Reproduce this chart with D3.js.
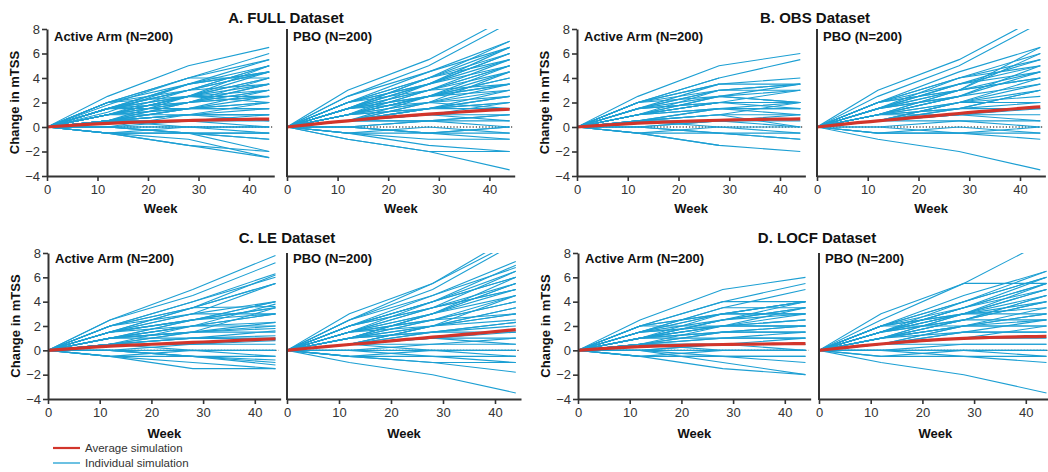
<!DOCTYPE html>
<html><head><meta charset="utf-8">
<script src="https://cdn.jsdelivr.net/npm/d3@7"></script>
<style>
body{margin:0;background:#fff;}
svg{display:block;font-family:"Liberation Sans",Arial,sans-serif;}
</style></head><body>
<svg id="c" width="1048" height="472"></svg>
<script>
// ---- data ----
const weeks = [0, 12, 28, 44];            // visit weeks of the individual simulations
const avgWeeks = [0, 4, 8, 12, 16, 20, 24, 28, 32, 36, 40, 44];
const xTicks = [0, 10, 20, 30, 40];
const yTicks = [-4, -2, 0, 2, 4, 6, 8];
const panelTitles = ["A. FULL Dataset", "B. OBS Dataset", "C. LE Dataset", "D. LOCF Dataset"];
const armLabels = ["Active Arm (N=200)", "PBO (N=200)"];
const legendLabels = ["Average simulation", "Individual simulation"];

// individual simulations: values at weeks 12, 28, 44 (week 0 = 0)
const fullActive = [
[2.5,5.0,6.5],[2.0,4.0,6.0],[1.8,4.0,5.5],[1.5,3.5,5.5],[2.0,3.5,5.0],[1.5,3.0,5.0],[1.2,3.5,4.5],[1.5,3.0,4.5],
[1.0,2.5,4.0],[2.0,4.0,4.0],[1.5,2.5,4.0],[1.0,2.5,3.5],[1.5,3.0,3.5],[0.5,2.0,3.5],[1.0,2.0,3.0],[1.5,2.5,3.0],
[0.5,1.5,3.0],[1.0,2.0,2.5],[0.5,1.5,2.5],[1.5,2.0,2.5],[1.0,1.5,2.0],[0.5,1.0,2.0],[2.0,2.5,2.0],[0.5,1.0,1.5],
[1.0,1.5,1.5],[0.5,0.5,1.0],[1.0,1.0,1.0],[0.5,1.0,0.5],[0,0.5,0.5],[0.5,0,0],[0,0,0],[-0.5,0,0],
[0,-0.5,-0.5],[-0.5,-0.5,-0.5],[-0.5,-0.5,-1.0],[0,-0.5,-1.0],[-0.5,-1.5,-2.0],[-0.5,-1.5,-2.5],[0,-0.5,-2.0],[-0.5,-1.0,-2.5],
[1.0,3.0,5.0],[1.5,3.5,4.5],[0.5,2.0,4.0],[1.0,2.0,3.5],[1.5,2.0,3.0],[0.5,1.5,2.0],[1.0,2.5,2.5],[0.5,1.0,1.0],
[1.5,1.5,1.5],[0,1.0,1.0],[0.5,0.5,0],[0,0,-0.5],[1.0,2.5,4.5],[2.0,3.0,4.5],[0.5,2.5,5.0]
];
const fullPbo = [
[3.0,5.5,9.0],[2.5,5.0,8.5],[2.0,4.5,7.0],[2.5,4.5,6.5],[1.5,4.0,6.5],[2.0,4.0,6.0],[1.5,3.5,6.0],[1.5,3.5,5.5],
[1.0,3.0,5.5],[2.0,3.5,5.0],[1.0,3.0,5.0],[1.5,3.0,4.5],[1.0,2.5,4.5],[0.5,2.5,4.0],[1.5,2.5,4.0],[1.0,2.5,3.5],
[2.0,3.0,3.5],[0.5,2.0,3.5],[1.0,2.0,3.0],[0.5,1.5,3.0],[1.5,2.0,2.5],[0.5,1.5,2.5],[1.0,1.5,2.0],[0.5,1.0,2.0],
[0.5,1.0,1.5],[1.0,2.0,1.5],[0.5,0.5,1.0],[0,0.5,1.0],[0.5,1.0,0.5],[0,0.5,0.5],[-0.5,-0.5,0],[0.5,0.5,0],
[-0.5,0,-0.5],[0,-0.5,-0.5],[-0.5,-1.0,-1.0],[0,-0.5,-1.0],[-0.5,-1.5,-2.0],[-1.0,-2.0,-2.0],[-1.0,-2.0,-3.5],
[1.5,4.0,7.0],[2.0,4.0,5.5],[1.0,3.5,6.5],[1.5,3.0,5.0],[0.5,2.0,4.5],[1.0,2.5,3.0],[1.5,2.5,3.5],[0.5,1.5,2.0],
[1.0,1.5,2.5],[0.5,1.0,1.0],[1.0,2.5,5.0],[2.0,3.5,6.0],[0.5,1.5,1.5],[0,-0.5,0]
];
const obsActive = [
[2.5,5.0,6.0],[2.0,4.0,5.5],[2.0,4.0,null],[1.5,3.5,4.0],[2.0,3.5,3.5],[1.5,3.0,3.5],[1.0,2.5,3.0],[1.5,3.0,null],
[1.0,2.5,2.0],[2.0,2.5,2.0],[1.0,2.0,1.5],[0.5,1.5,1.5],[1.5,2.0,null],[0.5,1.0,1.0],[1.0,1.5,1.0],[0.5,0.5,0.5],
[0,0.5,0],[0.5,0,0],[-0.5,0,-0.5],[0,-0.5,-0.5],[-0.5,-0.5,-1.0],[0,-0.5,-1.0],[-0.5,-1.5,-2.0],[-0.5,-1.5,null],
[1.0,2.0,null],[1.0,2.0,3.0],[0.5,1.5,2.0],
[1.0,2.0,2.0],[1.5,2.5,3.5],[0.5,1.0,2.0],[1.0,1.5,1.5],[2.0,3.0,3.0],[0.5,1.0,0],[1.5,2.0,2.0],[1.0,3.0,3.5],
[0,0.5,1.0],[2.0,3.5,null]
];
const obsPbo = [
[3.0,5.5,9.0],[2.5,5.0,8.5],[2.0,4.5,6.5],[2.0,4.0,6.0],[1.5,4.0,5.5],[1.5,3.5,5.0],[2.0,3.5,4.5],[1.0,3.0,4.5],
[1.5,3.0,4.0],[1.0,2.5,3.5],[2.0,3.0,null],[0.5,2.0,3.0],[1.0,2.0,2.0],[1.5,2.5,null],[0.5,1.5,2.0],[1.0,1.5,1.5],
[0.5,1.0,1.0],[0.5,1.0,0.5],[0,0.5,0.5],[1.0,1.0,null],[-0.5,-0.5,0],[0.5,0.5,0],[-0.5,0,-0.5],[0,-0.5,-0.5],
[-0.5,-0.5,-1.0],[-1.0,-2.0,-3.5],[1.0,2.5,5.0],[0.5,2.0,4.0],[1.5,3.0,6.0],[1.0,2.5,null],
[1.5,3.5,5.5],[2.0,4.0,5.0],[1.0,3.0,6.5],[0.5,2.0,3.5],[1.0,2.0,2.5],[1.5,2.5,4.5],[0.5,1.5,3.0],[2.0,3.0,4.0],
[1.0,1.5,3.0],[0.5,1.0,1.5]
];
const leActive = [
[2.5,5.0,7.8],[2.5,4.5,7.2],[2.0,4.0,6.3],[2.0,4.0,6.0],[1.5,3.5,5.5],[2.0,3.5,5.5],[1.5,2.5,4.0],[1.5,3.0,4.0],
[1.0,2.5,3.5],[1.5,2.5,3.5],[1.0,2.0,3.0],[0.5,2.0,3.0],[1.5,2.0,2.3],[1.0,1.5,2.3],[0.5,1.5,2.0],[1.0,1.5,1.8],
[0.5,1.0,1.6],[1.0,1.5,1.5],[0.5,1.0,1.2],[0.5,0.5,1.0],[0,0.5,0.8],[0.5,0.5,0.5],[0,0,0],[0.5,0,0],
[-0.5,0,-0.5],[0,-0.5,-0.5],[-0.5,-0.5,-0.8],[0,-0.5,-1.0],[-0.5,-1.5,-1.5],[-0.5,-1.0,-1.5],[1.5,3.5,6.2],[2.0,3.0,3.0],
[1.0,2.5,4.0],[1.5,3.0,5.5],[0.5,1.5,3.5],[1.0,2.0,2.0],[1.5,2.5,3.0],[0.5,1.0,0.9],[1.0,1.0,1.0],[2.0,3.5,3.6],
[0,-0.5,-1.2],[1.0,2.0,3.8]
];
const lePbo = [
[3.0,5.5,9.5],[2.5,5.5,9.0],[2.5,5.0,8.8],[2.5,4.5,7.3],[2.0,4.5,6.8],[2.0,4.0,6.5],[1.5,4.0,6.0],[2.0,3.5,5.5],
[1.5,3.5,5.0],[1.0,3.0,5.0],[1.5,3.0,4.5],[1.0,2.5,4.0],[1.5,2.5,4.0],[0.5,2.0,3.5],[1.0,2.0,3.0],[1.5,2.5,3.0],
[0.5,1.5,2.3],[1.0,1.5,2.3],[0.5,1.0,1.5],[1.0,1.5,1.5],[0.5,1.0,1.0],[0,0.5,1.0],[0.5,0.5,0.5],[0,0,0],
[0.5,0,0],[-0.5,0,-0.5],[0,-0.5,-0.5],[-0.5,-0.5,-1.0],[-0.5,-1.0,-1.8],[-1.0,-2.0,-3.5],[1.0,3.0,5.5],[2.0,4.0,6.0],[0.5,2.0,4.5],
[2.0,4.0,7.0],[1.5,3.5,6.5],[1.0,3.0,6.0],[1.5,3.0,5.5],[1.0,2.5,4.5],[0.5,2.0,3.0],[1.0,2.0,2.5],[0.5,1.5,2.0],
[1.5,2.0,3.5],[2.0,3.5,5.0],[0.5,1.0,0.5],[-0.5,-1.0,-1.0]
];
const locfActive = [
[2.5,5.0,6.0],[2.0,4.0,5.5],[1.5,3.5,5.0],[2.0,4.0,4.0],[1.5,3.0,4.0],[1.0,3.0,4.0],[1.5,3.5,3.5],[1.0,2.5,3.5],
[2.0,3.0,3.0],[1.0,2.5,3.0],[0.5,2.0,3.0],[2.0,2.0,2.0],[1.0,2.0,2.0],[1.5,2.0,2.0],[0.5,1.5,1.5],[1.0,1.5,1.5],
[0.5,1.0,1.0],[1.0,1.0,1.0],[0.5,0.5,0.5],[0,0.5,0.5],[0.5,0,0],[0,0,0],[-0.5,0,0],[0,-0.5,-0.5],
[-0.5,-0.5,-0.5],[-0.5,-0.5,-1.0],[-0.5,-1.5,-2.0],[0,-1.0,-2.0],[1.5,2.5,3.5],[1.0,2.0,2.5],
[1.0,2.5,4.0],[1.5,3.0,3.0],[0.5,1.5,2.0],[1.0,2.0,3.5],[2.0,3.0,4.0],[0.5,1.0,1.5],[1.0,1.5,2.0],[0,0.5,1.0],
[1.5,2.0,2.5],[0.5,0.5,0]
];
const locfPbo = [
[3.0,5.5,9.0],[2.5,5.5,5.5],[2.0,4.5,6.5],[2.0,4.0,6.0],[1.5,4.0,6.0],[1.5,3.5,5.5],[2.0,3.5,5.0],[1.0,3.0,5.0],
[1.5,3.0,4.5],[1.0,2.5,4.0],[2.0,3.0,4.0],[1.5,3.0,3.5],[0.5,2.0,3.5],[1.0,2.0,3.0],[1.5,2.5,2.5],[0.5,1.5,2.5],
[1.0,2.0,2.0],[2.0,2.0,2.0],[0.5,1.5,1.5],[1.0,1.5,1.5],[0.5,1.0,1.0],[0,0.5,0.5],[0.5,0.5,0.5],[0,0,0],
[-0.5,0,0],[0,-0.5,-0.5],[-0.5,-0.5,-1.0],[-1.0,-2.0,-3.5],[1.0,2.5,4.5],[1.5,3.5,5.5],
[2.0,4.0,6.5],[1.5,3.5,6.0],[1.0,3.0,5.5],[1.5,3.0,5.0],[1.0,2.5,4.5],[0.5,2.0,3.0],[1.0,2.0,2.5],[2.0,3.0,3.0],
[0.5,1.0,2.0],[1.5,2.5,4.0],[0,0,-0.5]
];

// average simulations at avgWeeks
const avgFullActive = [0,0.12,0.22,0.30,0.37,0.43,0.48,0.53,0.57,0.60,0.63,0.65];
const avgFullPbo    = [0,0.18,0.35,0.50,0.66,0.80,0.93,1.05,1.16,1.27,1.37,1.45];
const avgObsActive  = [0,0.12,0.22,0.31,0.38,0.45,0.50,0.55,0.59,0.62,0.64,0.66];
const avgObsPbo     = [0,0.18,0.35,0.50,0.65,0.80,0.95,1.10,1.25,1.38,1.52,1.65];
const avgLeActive   = [0,0.12,0.24,0.34,0.42,0.50,0.57,0.65,0.72,0.80,0.88,0.95];
const avgLePbo      = [0,0.17,0.33,0.48,0.62,0.78,0.93,1.08,1.23,1.38,1.53,1.70];
const avgLocfActive = [0,0.12,0.22,0.30,0.36,0.41,0.45,0.48,0.50,0.52,0.54,0.55];
const avgLocfPbo    = [0,0.18,0.36,0.52,0.67,0.80,0.90,0.98,1.04,1.09,1.12,1.15];

// ---- layout ----
const BLUE = "#1c9fd3", RED = "#d2352b", AX = "#333";
const rows = [{top: 29, bot: 176, title: 23, sub: 41, tick: 197, week: 213},
              {top: 253, bot: 399, title: 243, sub: 263, tick: 420, week: 438}];
const panels = [
  {row:0, x0:47,  k:5.05,  ind:fullActive, avg:avgFullActive, arm:0, ylab:true},
  {row:0, x0:287, k:5.06,  ind:fullPbo,    avg:avgFullPbo,    arm:1},
  {row:0, x0:577, k:5.075, ind:obsActive,  avg:avgObsActive,  arm:0, ylab:true},
  {row:0, x0:817, k:5.075, ind:obsPbo,     avg:avgObsPbo,     arm:1},
  {row:1, x0:48,  k:5.17,  ind:leActive,   avg:avgLeActive,   arm:0, ylab:true},
  {row:1, x0:287, k:5.2,   ind:lePbo,      avg:avgLePbo,      arm:1},
  {row:1, x0:578, k:5.17,  ind:locfActive, avg:avgLocfActive, arm:0, ylab:true},
  {row:1, x0:819, k:5.17,  ind:locfPbo,    avg:avgLocfPbo,    arm:1}
];
const titlePos = [{x:286,row:0},{x:815,row:0},{x:287,row:1},{x:817,row:1}];

const svg = d3.select("#c");
const defs = svg.append("defs");

titlePos.forEach((t,i)=>{
  svg.append("text").attr("x",t.x).attr("y",rows[t.row].title).attr("text-anchor","middle")
    .attr("font-size",15).attr("font-weight","bold").attr("fill","#111").text(panelTitles[i]);
});

panels.forEach((p,i)=>{
  const r = rows[p.row];
  const x = d3.scaleLinear().domain([0,45]).range([p.x0, p.x0 + 45*p.k]);
  const y = d3.scaleLinear().domain([-4,8]).range([r.bot, r.top]);
  const g = svg.append("g");
  defs.append("clipPath").attr("id","cp"+i).append("rect")
    .attr("x",x(0)).attr("y",y(8)).attr("width",x(45)-x(0)+10).attr("height",y(-4)-y(8));
  const plot = g.append("g").attr("clip-path",`url(#cp${i})`);
  const line = d3.line().defined(d=>d[1]!=null).x(d=>x(d[0])).y(d=>y(d[1]));
  plot.append("path").attr("d",d3.line().x(d=>x(d[0])).y(d=>y(d[1]))([[0,0],[44.6,0]]))
    .attr("stroke","#000").attr("stroke-width",1).attr("stroke-dasharray","1.2,2").attr("fill","none");
  plot.selectAll("path.ind").data(p.ind).join("path").attr("class","ind")
    .attr("d",d=>line(weeks.map((w,j)=>[w, j===0?0:d[j-1]])))
    .attr("fill","none").attr("stroke",BLUE).attr("stroke-width",1.1);
  plot.append("path").attr("d",d3.line().curve(d3.curveMonotoneX).x(d=>x(d[0])).y(d=>y(d[1]))(avgWeeks.map((w,j)=>[w,p.avg[j]])))
    .attr("fill","none").attr("stroke",RED).attr("stroke-width",3.2);

  // x axis
  const xa = g.append("g").attr("transform",`translate(0,${y(-4)})`)
    .call(d3.axisBottom(x).tickValues(xTicks).tickSize(5).tickSizeOuter(0).tickPadding(4));
  xa.select(".domain").attr("stroke",AX).attr("stroke-width",2);
  xa.selectAll(".tick line").attr("stroke",AX).attr("stroke-width",1.6);
  xa.selectAll(".tick text").attr("font-size",13).attr("fill","#333").attr("font-family","Liberation Sans, Arial, sans-serif");
  // y axis
  if (p.arm===0){
    const ya = g.append("g").attr("transform",`translate(${x(0)},0)`)
      .call(d3.axisLeft(y).tickValues(yTicks).tickSize(5).tickSizeOuter(0).tickPadding(2));
    ya.select(".domain").attr("stroke",AX).attr("stroke-width",2);
    ya.selectAll(".tick line").attr("stroke",AX).attr("stroke-width",1.6);
    ya.selectAll(".tick text").attr("font-size",13).attr("fill","#333").attr("font-family","Liberation Sans, Arial, sans-serif");
  } else {
    g.append("line").attr("x1",x(0)).attr("x2",x(0)).attr("y1",y(8)).attr("y2",y(-4)+1)
      .attr("stroke",AX).attr("stroke-width",2);
  }
  g.append("text").attr("x",x(0)+(p.arm===0?7:6)).attr("y",r.sub).attr("font-size",13)
    .attr("font-weight","bold").attr("fill","#111").text(armLabels[p.arm]);
  g.append("text").attr("x",x(22.5)).attr("y",r.week).attr("text-anchor","middle")
    .attr("font-size",13).attr("font-weight","bold").attr("fill","#111").text("Week");
  if (p.ylab){
    const cy = (y(8)+y(-4))/2;
    g.append("text").attr("transform",`translate(${x(0)-28},${cy}) rotate(-90)`)
      .attr("text-anchor","middle").attr("font-size",13).attr("font-weight","bold").attr("fill","#111")
      .text("Change in mTSS");
  }
});

// legend
const leg = svg.append("g");
[[RED,448,2.2],[BLUE,463,1.3]].forEach((d,i)=>{
  leg.append("line").attr("x1",53).attr("x2",80).attr("y1",d[1]).attr("y2",d[1]).attr("stroke",d[0]).attr("stroke-width",d[2]);
  leg.append("text").attr("x",85).attr("y",d[1]+4).attr("font-size",11.5).attr("fill","#333").text(legendLabels[i]);
});
</script></body></html>
